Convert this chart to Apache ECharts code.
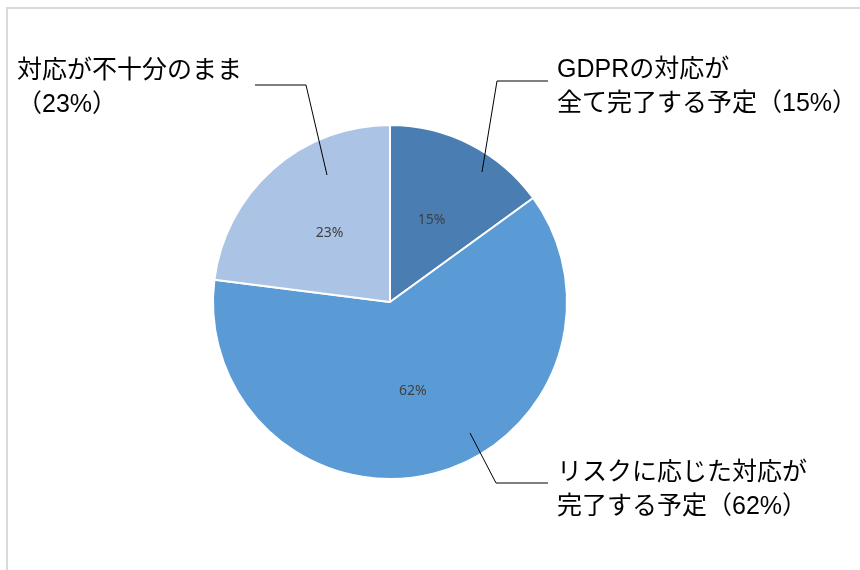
<!DOCTYPE html>
<html>
<head>
<meta charset="utf-8">
<script src="https://cdn.jsdelivr.net/npm/echarts@6/dist/echarts.min.js"></script>
<style>
html,body{margin:0;padding:0;background:#fff;}
#chart{width:860px;height:570px;}
</style>
</head>
<body>
<div id="chart"></div>
<script>
// Data
const categories = ['GDPRの対応が\n全て完了する予定', 'リスクに応じた対応が\n完了する予定', '対応が不十分のまま\n'];
const values = [15, 62, 23];
const colors = ['#4a7db1', '#5b9bd5', '#abc4e5'];

// Label layout (annotation positions)
const labelAnchors = [
  { x: 557, y: 87, line: [[482, 172], [497, 81], [548, 81]] },
  { x: 557, y: 490, line: [[470, 433], [496, 483], [548, 483]] },
  { x: 17, y: 88, line: [[327, 175], [306, 85], [255, 85]] }
];

const pieData = categories.map((c, i) => ({ name: c, value: values[i], itemStyle: { color: colors[i] } }));
const labelData = categories.map((c, i) => ({ name: c, value: values[i] }));

const chart = echarts.init(document.getElementById('chart'));
const common = {
  type: 'pie',
  center: [390, 302],
  radius: [0, 177],
  startAngle: 90,
  clockwise: true,
  avoidLabelOverlap: false,
  animation: false
};
chart.setOption({
  backgroundColor: '#ffffff',
  graphic: [{
    type: 'rect',
    shape: { x: 7, y: 8, width: 900, height: 600 },
    style: { fill: 'none', stroke: '#d9d9d9', lineWidth: 2 },
    silent: true
  }],
  series: [
    Object.assign({}, common, {
      z: 2,
      data: pieData,
      itemStyle: { borderColor: '#ffffff', borderWidth: 2 },
      label: {
        show: true,
        position: 'inside',
        formatter: '{c}%',
        fontFamily: 'Noto Sans',
        fontSize: 14,
        color: '#404040'
      },
      labelLine: { show: false }
    }),
    Object.assign({}, common, {
      z: 5,
      silent: true,
      data: labelData,
      itemStyle: { color: 'rgba(0,0,0,0)', borderWidth: 0 },
      label: {
        show: true,
        position: 'outside',
        formatter: '{b}（{c}%）',
        fontFamily: 'Liberation Sans, Noto Sans CJK JP',
        fontSize: 25,
        lineHeight: 34,
        color: '#000000'
      },
      labelLine: { show: true, lineStyle: { color: '#000000', width: 1 } },
      labelLayout: function (p) {
        const a = labelAnchors[p.dataIndex];
        return {
          x: a.x, y: a.y,
          align: 'left', verticalAlign: 'middle',
          labelLinePoints: a.line
        };
      }
    })
  ]
});
</script>
</body>
</html>
